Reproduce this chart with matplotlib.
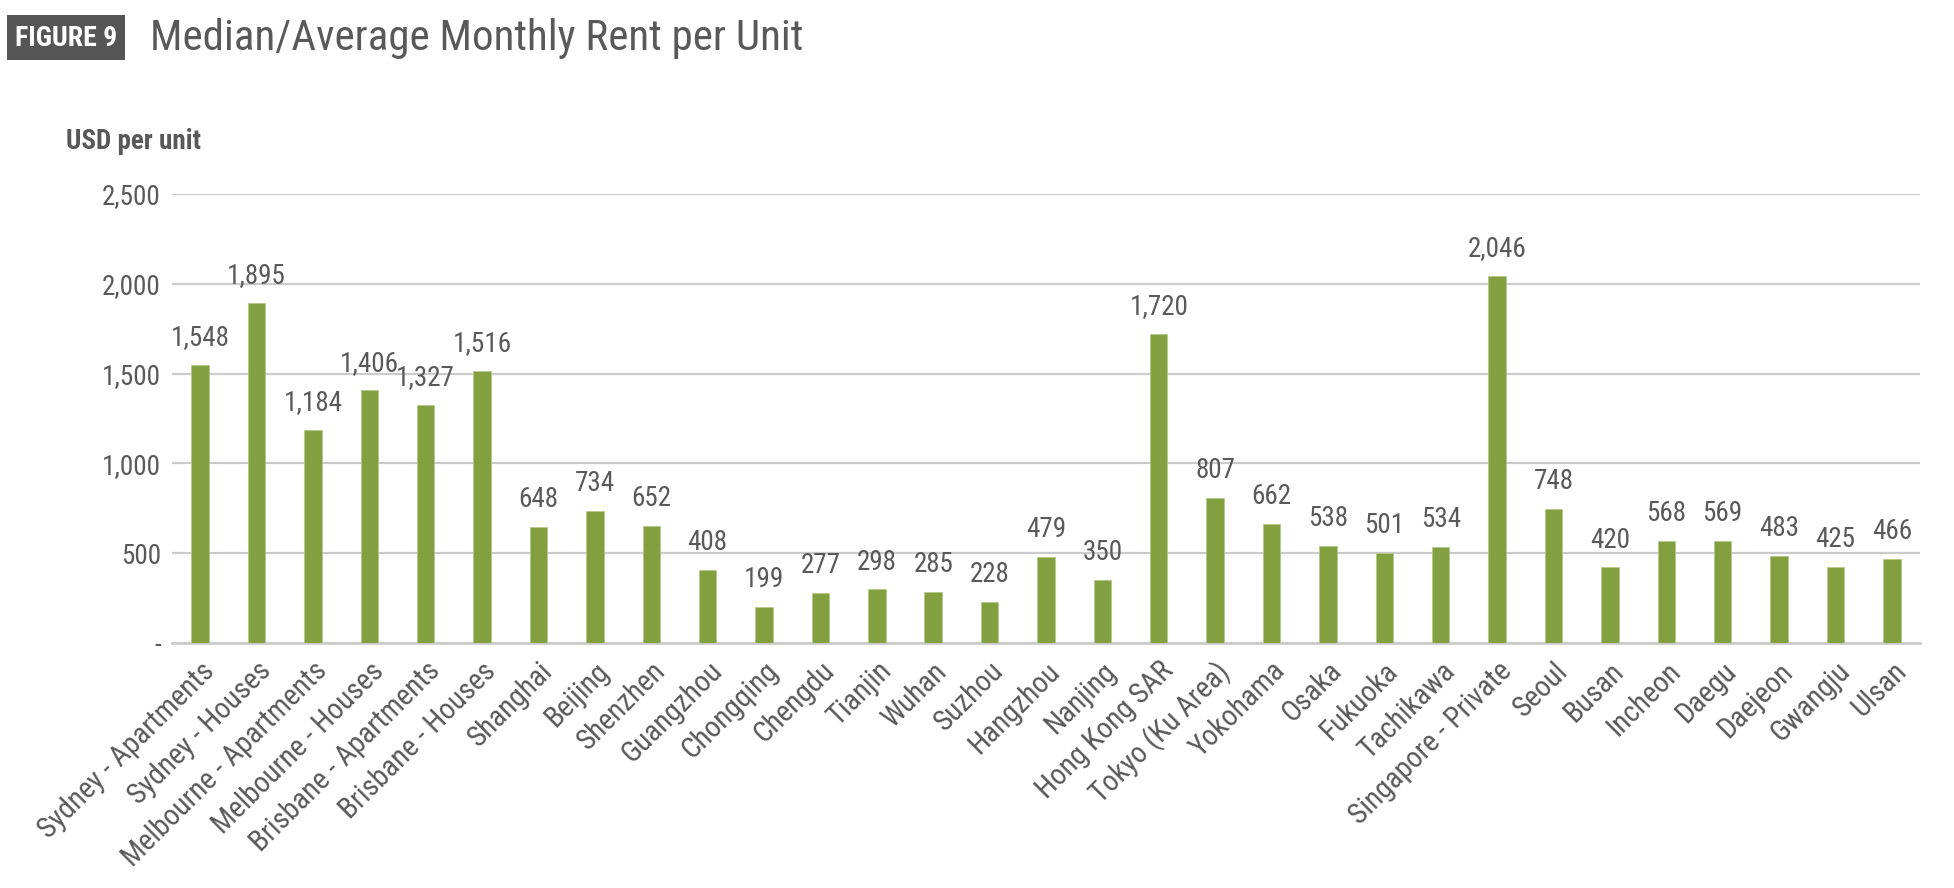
import matplotlib
matplotlib.use('Agg')
import matplotlib.pyplot as plt
from matplotlib import font_manager
from matplotlib.patches import Rectangle

# pick a narrow font if one is installed
names = set(f.name for f in font_manager.fontManager.ttflist)
font_name = 'DejaVu Sans'
for cand in ['Liberation Sans Narrow', 'Roboto Condensed', 'Open Sans Condensed', 'Noto Sans Condensed', 'Roboto', 'Liberation Sans']:
    if cand in names:
        font_name = cand
        break
plt.rcParams['font.family'] = [font_name, 'DejaVu Sans']

cities = ['Sydney - Apartments', 'Sydney - Houses', 'Melbourne - Apartments', 'Melbourne - Houses',
          'Brisbane - Apartments', 'Brisbane - Houses', 'Shanghai', 'Beijing', 'Shenzhen', 'Guangzhou',
          'Chongqing', 'Chengdu', 'Tianjin', 'Wuhan', 'Suzhou', 'Hangzhou', 'Nanjing', 'Hong Kong SAR',
          'Tokyo (Ku Area)', 'Yokohama', 'Osaka', 'Fukuoka', 'Tachikawa', 'Singapore - Private',
          'Seoul', 'Busan', 'Incheon', 'Daegu', 'Daejeon', 'Gwangju', 'Ulsan']
rent = [1548, 1895, 1184, 1406, 1327, 1516, 648, 734, 652, 408,
        199, 277, 298, 285, 228, 479, 350, 1720,
        807, 662, 538, 501, 534, 2046,
        748, 420, 568, 569, 483, 425, 466]
yticks = [0, 500, 1000, 1500, 2000, 2500]
ytick_labels = ['-', '500', '1,000', '1,500', '2,000', '2,500']

green = '#82A040'
grey_text = '#595959'
grid_col = '#CBCBCB'

fig = plt.figure(figsize=(19.54, 8.88), dpi=100)
ax = fig.add_axes([0.088, 0.276, 0.8946, 0.5055])

x = list(range(len(cities)))
bars = ax.bar(x, rent, width=0.31, color=green, edgecolor='#B5C98A', linewidth=0.6, zorder=3)
for xi, v in zip(x, rent):
    ax.annotate(f'{v:,}', (xi, v), xytext=(0, 10), textcoords='offset points',
                ha='center', va='bottom', fontsize=19.5, color=grey_text)

ax.set_xlim(-0.5, len(cities) - 0.5)
ax.set_ylim(0, 2500)
ax.set_yticks(yticks)
ax.set_yticklabels(ytick_labels)
ax.yaxis.grid(True, color=grid_col, linewidth=1.6, zorder=0)
for s in ['top', 'right', 'left']:
    ax.spines[s].set_visible(False)
ax.spines['bottom'].set_color(grid_col)
ax.spines['bottom'].set_linewidth(2)
ax.tick_params(axis='both', length=0, colors=grey_text)
ax.tick_params(axis='y', pad=8, labelsize=19.5)
ax.set_xticks(x)
ax.set_xticklabels(cities, rotation=45, ha='right', rotation_mode='anchor')
ax.tick_params(axis='x', pad=10, labelsize=21)

# header
fig.patches.append(Rectangle((0.0038, 0.932), 0.06, 0.051, transform=fig.transFigure,
                             facecolor='#555555', edgecolor='none'))
fig.text(0.0338, 0.957, 'FIGURE 9', ha='center', va='center', color='white',
         fontsize=20, fontweight='bold')
fig.text(0.077, 0.957, 'Median/Average Monthly Rent per Unit', ha='left', va='center',
         color=grey_text, fontsize=31)
fig.text(0.034, 0.841, 'USD per unit', ha='left', va='center', color=grey_text,
         fontsize=19.5, fontweight='bold')

fig.savefig('out.png', dpi=100, facecolor='white')
